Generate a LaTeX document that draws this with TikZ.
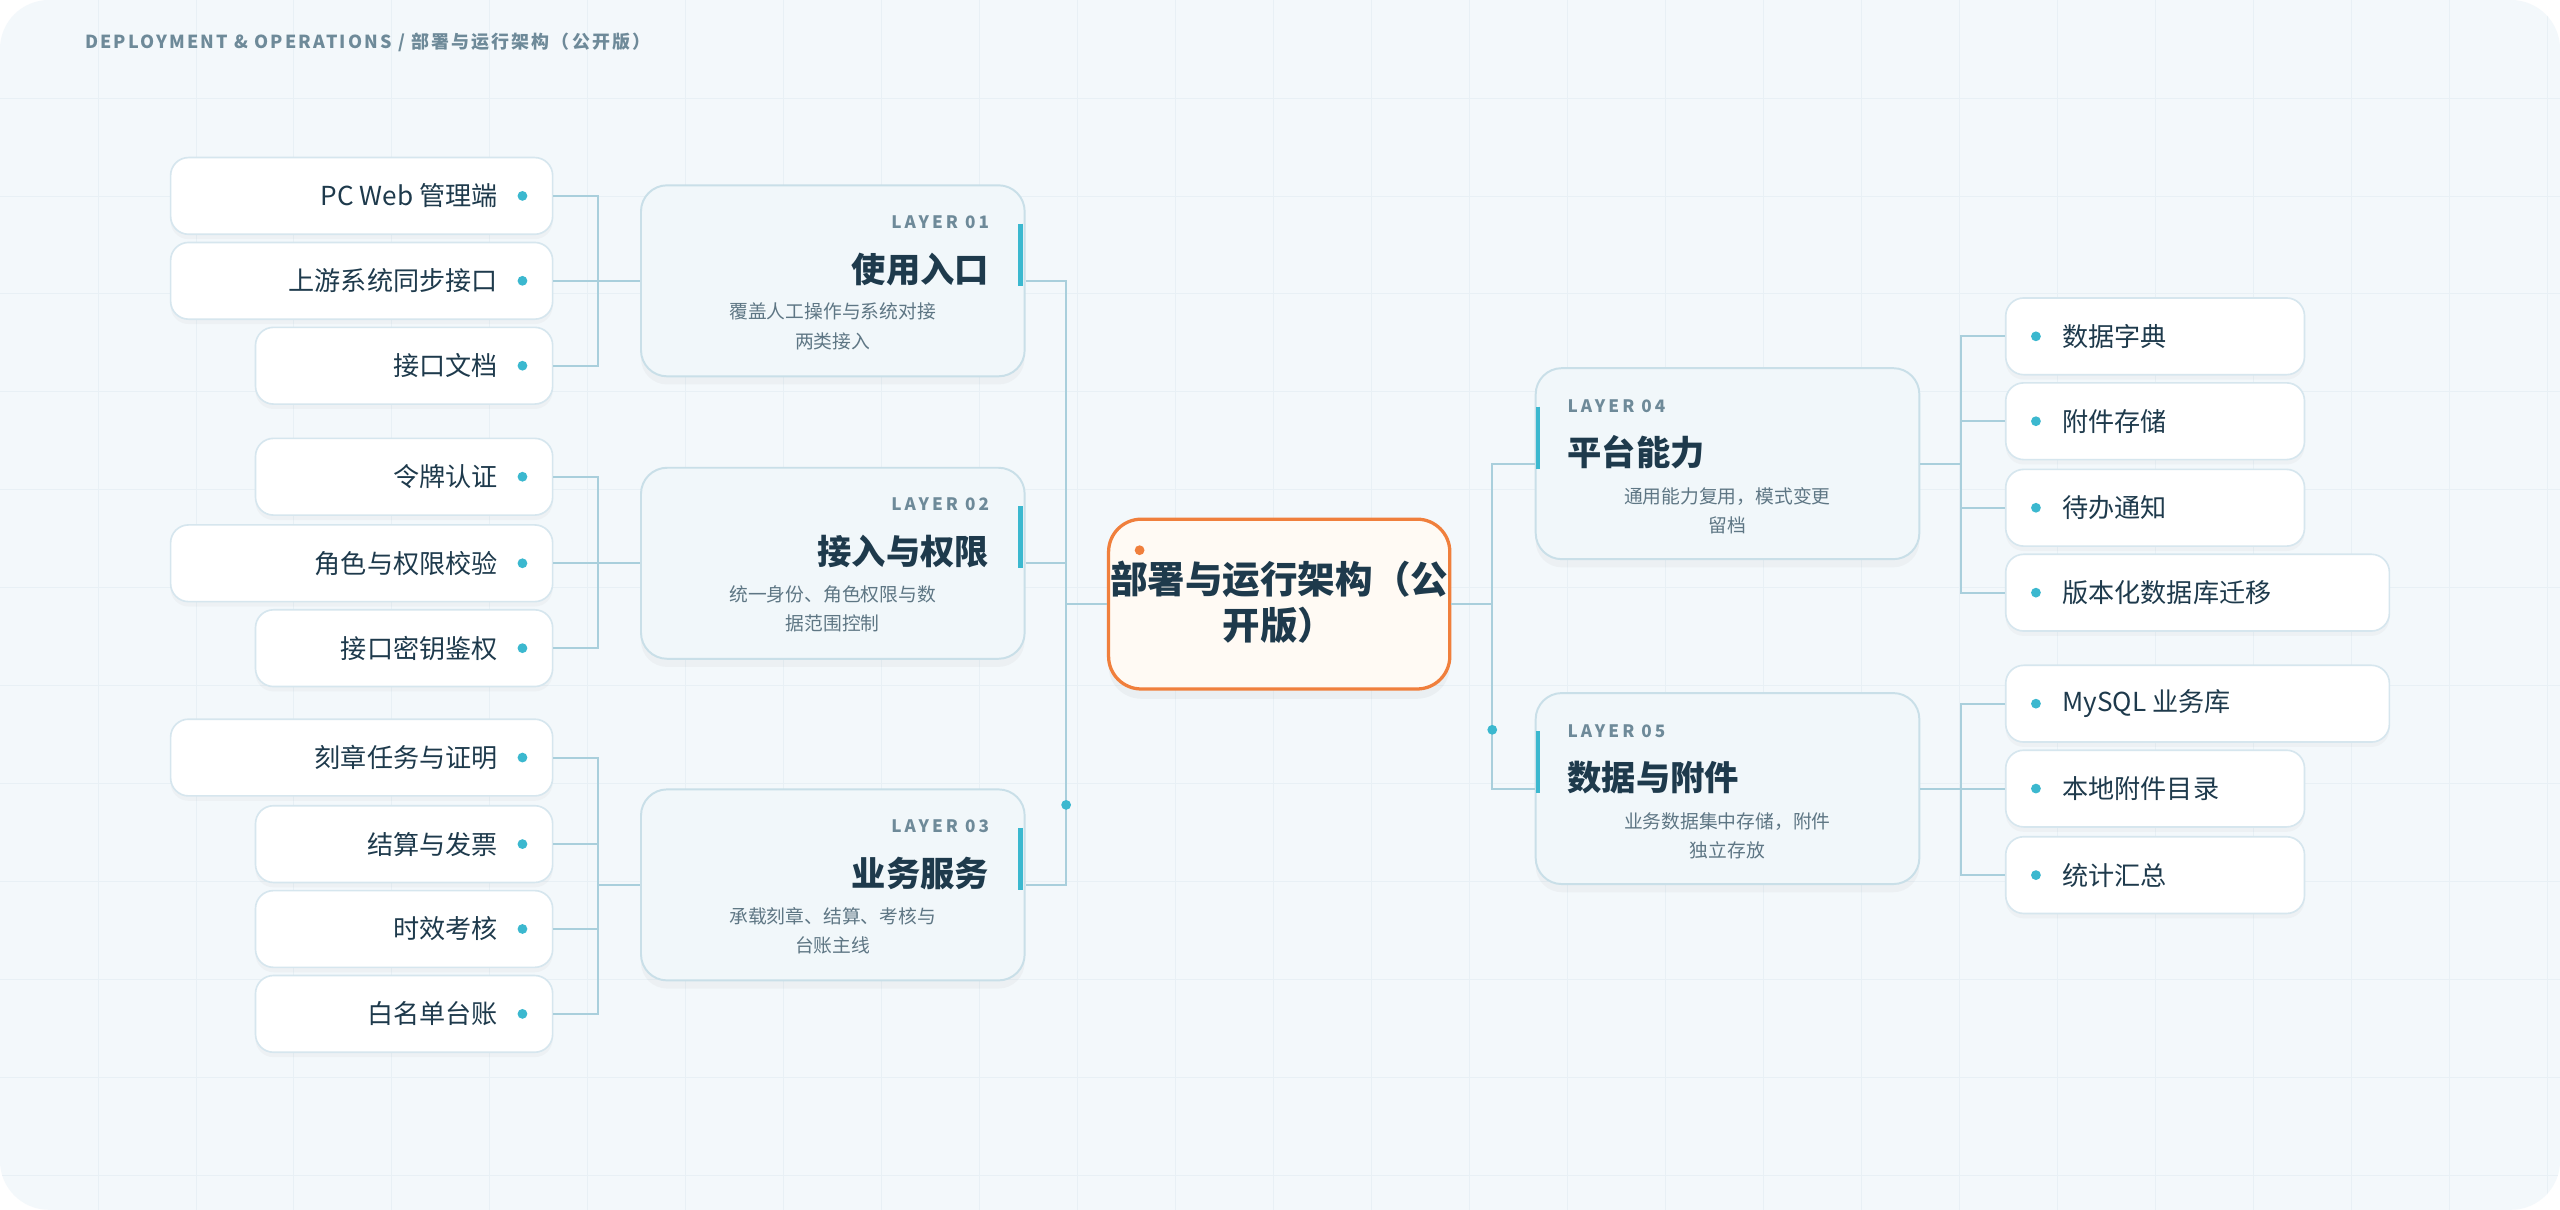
\documentclass[tikz,border=0pt]{standalone}
\usepackage{fontspec}
\setmainfont{Noto Sans CJK SC}
\usetikzlibrary{shadows}
\definecolor{bg}{HTML}{F3F8FB}
\definecolor{grid}{HTML}{E8F0F5}
\definecolor{ink}{HTML}{1E3A4C}
\definecolor{sub}{HTML}{5E7684}
\definecolor{lab}{HTML}{6E8A99}
\definecolor{ln}{HTML}{A9CFDC}
\definecolor{acc}{HTML}{3BB8CF}
\definecolor{bd}{HTML}{D6E6EE}
\definecolor{lbd}{HTML}{C9DFE8}
\definecolor{lfill}{HTML}{F1F7FA}
\definecolor{org}{HTML}{F07F3C}
\definecolor{ofill}{HTML}{FFFAF4}
\tikzset{
 leafbox/.style={draw=bd,fill=white,line width=1pt,rounded corners=11pt,minimum height=47pt,inner sep=0pt,drop shadow={opacity=0.05,shadow xshift=0pt,shadow yshift=-3pt}},
 layerbox/.style={draw=lbd,fill=lfill,line width=1.2pt,rounded corners=16pt,minimum width=235pt,minimum height=117pt,inner sep=0pt,drop shadow={opacity=0.06,shadow xshift=0pt,shadow yshift=-5pt}},
 lt/.style={font=\fontsize{16}{18}\selectfont,text=ink,inner sep=0pt},
 ttl/.style={font=\fontsize{21}{24}\bfseries\selectfont,text=ink,inner sep=0pt},
 lbl/.style={font=\fontsize{10.5}{12}\bfseries\addfontfeatures{LetterSpace=18}\selectfont,text=lab,inner sep=0pt},
 dsc/.style={font=\fontsize{11.5}{18}\selectfont,text=sub,align=center,inner sep=0pt},
 conn/.style={draw=ln,line width=1.2pt},
 bar/.style={draw=acc,line width=3pt},
 dot/.style={circle,fill=acc,inner sep=0pt,minimum size=6pt},
}
\begin{document}
\begin{tikzpicture}[x=1pt,y=-1pt]
\useasboundingbox (0,0) rectangle (1568,741);
\fill[white] (0,0) rectangle (1568,741);
\fill[bg,rounded corners=30pt] (0,0) rectangle (1568,741);
\begin{scope}
\clip[rounded corners=30pt] (0,0) rectangle (1568,741);
\foreach \x in {60,120,...,1560} \draw[grid,line width=0.5pt] (\x,0) -- (\x,741);
\foreach \y in {60,120,...,740} \draw[grid,line width=0.5pt] (0,\y) -- (1568,\y);
\end{scope}
\node[anchor=west,inner sep=0pt,text=lab,font=\fontsize{11}{12}\bfseries\addfontfeatures{LetterSpace=12}\selectfont] (hdr) at (52,26) {DEPLOYMENT \& OPERATIONS / 部署与运行架构（公开版）};

% left leaves
\foreach \n/\xl/\cy/\t in {a1/105/120/PC Web 管理端, a2/105/172/上游系统同步接口, a3/157/224/接口文档,
 b1/157/292/令牌认证, b2/105/345/角色与权限校验, b3/157/397/接口密钥鉴权,
 c1/105/464/刻章任务与证明, c2/157/517/结算与发票, c3/157/569/时效考核, c4/157/621/白名单台账}{
 \pgfmathsetmacro\w{339-\xl}
 \node[leafbox,minimum width=\w pt,anchor=east] (\n) at (339,\cy) {};
 \node[lt,anchor=east] (\n t) at (305,\cy) {\t};
 \node[dot] (\n d) at (320,\cy) {};
}
% right leaves
\foreach \n/\xr/\cy/\t in {d1/1411/206/数据字典, d2/1411/258/附件存储, d3/1411/311/待办通知, d4/1463/363/版本化数据库迁移,
 e1/1463/431/MySQL 业务库, e2/1411/483/本地附件目录, e3/1411/536/统计汇总}{
 \pgfmathsetmacro\w{\xr-1228}
 \node[leafbox,minimum width=\w pt,anchor=west] (\n) at (1228,\cy) {};
 \node[lt,anchor=west] (\n t) at (1263,\cy) {\t};
 \node[dot] (\n d) at (1247,\cy) {};
}

% left layer boxes
\foreach \n/\cy/\k/\t/\da/\db in {L1/172/01/使用入口/覆盖人工操作与系统对接/两类接入, L2/345/02/接入与权限/统一身份、角色权限与数/据范围控制, L3/542/03/业务服务/承载刻章、结算、考核与/台账主线}{
 \node[layerbox,anchor=west] (\n) at (392,\cy) {};
 \node[lbl,anchor=east] (\n l) at (606,\cy-36) {LAYER \k};
 \node[ttl,anchor=east] (\n t) at (606,\cy-7) {\t};
 \node[dsc] (\n d) at (510,\cy+28) {\da\\\db};
 \draw[bar] (625,\cy-35) -- (625,\cy+3);
}
% right layer boxes
\foreach \n/\cy/\k/\t/\da/\db in {L4/284/04/平台能力/通用能力复用，模式变更/留档, L5/483/05/数据与附件/业务数据集中存储，附件/独立存放}{
 \node[layerbox,anchor=west] (\n) at (940,\cy) {};
 \node[lbl,anchor=west] (\n l) at (960,\cy-35) {LAYER \k};
 \node[ttl,anchor=west] (\n t) at (960,\cy-7) {\t};
 \node[dsc] (\n d) at (1058,\cy+29) {\da\\\db};
 \draw[bar] (942,\cy-35) -- (942,\cy+3);
}

% center
\node[draw=org,fill=ofill,line width=2pt,rounded corners=20pt,minimum width=209pt,minimum height=104pt,inner sep=0pt,drop shadow={opacity=0.07,shadow xshift=0pt,shadow yshift=-6pt}] (C) at (783.5,370) {};
\node[font=\fontsize{23}{28}\bfseries\selectfont,text=ink,align=center,inner sep=0pt] (Ct) at (783.5,369) {部署与运行架构（公\\开版）};
\node[circle,fill=org,inner sep=0pt,minimum size=6pt] (Cd) at (698,337) {};

% connectors left
\coordinate (jA) at (366,172); \coordinate (jB) at (366,345); \coordinate (jC) at (366,542);
\draw[conn] (a1.east) -| (jA); \draw[conn] (a3.east) -| (jA); \draw[conn] (a2.east) -- (L1.west);
\draw[conn] (b1.east) -| (jB); \draw[conn] (b3.east) -| (jB); \draw[conn] (b2.east) -- (L2.west);
\draw[conn] (c1.east) -| (jC); \draw[conn] (c4.east) -| (jC); \draw[conn] (c2.east) -- (c2.east -| jC); \draw[conn] (c3.east) -- (c3.east -| jC); \draw[conn] (jC) -- (L3.west);
\coordinate (m1) at (653,172); \coordinate (m3) at (653,542); \coordinate (mc) at (653,370);
\draw[conn] (L1.east) -- (m1) -- (m3) -- (L3.east);
\draw[conn] (L2.east) -- (L2.east -| mc);
\draw[conn] (mc) -- (C.west);
\node[dot] (md) at (653,493) {};
% connectors right
\coordinate (r4) at (914,284); \coordinate (r5) at (914,483);
\draw[conn] (C.east) -- (914,370);
\draw[conn] (L4.west) -- (r4) -- (r5) -- (L5.west);
\node[dot] (rd) at (914,447) {};
\coordinate (k4) at (1201,284); \coordinate (k5) at (1201,483);
\draw[conn] (L4.east) -- (k4);
\draw[conn] (d1.west) -| (k4); \draw[conn] (d4.west) -| (k4); \draw[conn] (d2.west) -- (d2.west -| k4); \draw[conn] (d3.west) -- (d3.west -| k4);
\draw[conn] (L5.east) -- (e2.west);
\draw[conn] (e1.west) -| (k5); \draw[conn] (e3.west) -| (k5);
\end{tikzpicture}
\end{document}
